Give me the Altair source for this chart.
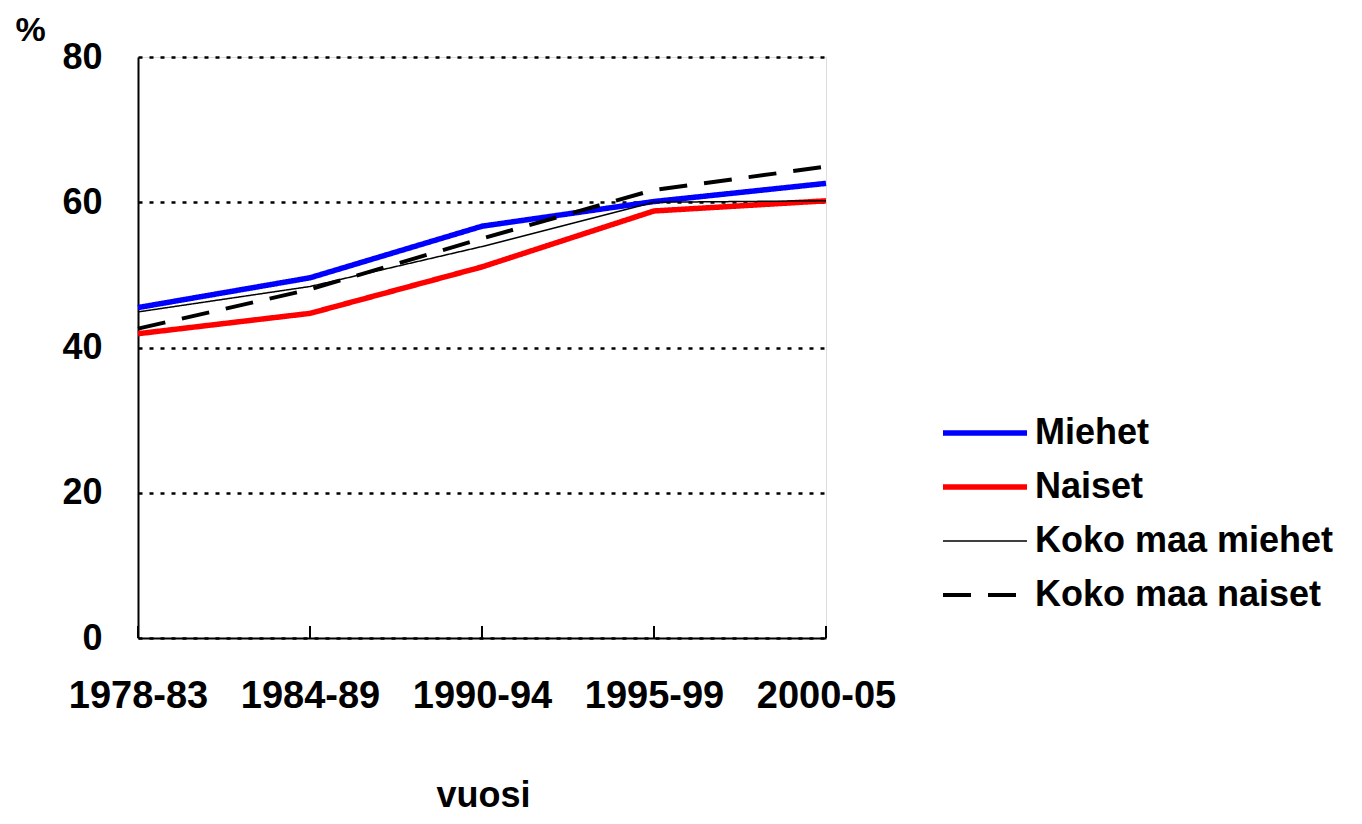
import altair as alt
import pandas as pd

periods = ["1978-83", "1984-89", "1990-94", "1995-99", "2000-05"]
series_names = ["Miehet", "Naiset", "Koko maa miehet", "Koko maa naiset"]
miehet = [45.5, 49.6, 56.7, 60.1, 62.6]
naiset = [41.9, 44.7, 51.1, 58.8, 60.2]
koko_miehet = [44.9, 48.4, 53.9, 60.0, 60.2]
koko_naiset = [42.6, 48.0, 55.0, 61.7, 64.9]
y_ticks = [0, 20, 40, 60, 80]

colors = ["#0000ff", "#ff0000", "#000000", "#000000"]
dashes = [[1, 0], [1, 0], [1, 0], [28, 17]]
widths = [5.5, 5.5, 1.5, 4]

rows = []
for name, vals in zip(series_names, [miehet, naiset, koko_miehet, koko_naiset]):
    for p, v in zip(periods, vals):
        rows.append({"period": p, "value": v, "series": name})
df = pd.DataFrame(rows)
ticks_df = pd.DataFrame({"period": periods})

FONT = "Liberation Sans"
FS = 36

x_enc = alt.X(
    "period:N",
    sort=periods,
    scale=alt.Scale(type="point", padding=0, domain=periods),
    axis=alt.Axis(
        title="vuosi",
        titleX=345,
        titleY=168,
        titleAlign="center",
        titleBaseline="alphabetic",
        titleFont=FONT,
        titleFontSize=FS,
        titleFontWeight="bold",
        titleColor="black",
        labelFont=FONT,
        labelFontSize=38,
        labelFontWeight="bold",
        labelColor="black",
        labelPadding=39,
        labelAngle=0,
        labelAlign="center",
        labelBaseline="top",
        labelOverlap=False,
        labelFlush=False,
        labelBound=False,
        ticks=False,
        tickSize=0,
        domainColor="black",
        domainWidth=2,
        grid=False,
    ),
)

y_enc = alt.Y(
    "value:Q",
    scale=alt.Scale(domain=[0, 80], nice=False),
    axis=alt.Axis(
        values=y_ticks,
        title="%",
        titleAngle=0,
        titleX=-108,
        titleY=-27,
        titleAlign="center",
        titleBaseline="middle",
        titleFont=FONT,
        titleFontSize=34,
        titleFontWeight="bold",
        titleColor="black",
        labelFont=FONT,
        labelFontSize=FS,
        labelFontWeight="bold",
        labelColor="black",
        labelPadding=36,
        ticks=False,
        tickSize=0,
        domainColor="black",
        domainWidth=2,
        grid=True,
        gridColor="black",
        gridDash=[4, 7],
        gridWidth=2.5,
        gridOpacity=1,
    ),
)

legend = alt.Legend(
    title=None,
    orient="none",
    legendX=802,
    legendY=358,
    symbolType="stroke",
    symbolSize=7056,
    labelFont=FONT,
    labelFontSize=FS,
    labelFontWeight="bold",
    labelColor="black",
    labelOffset=5,
    labelLimit=600,
    rowPadding=18,
    clipHeight=36,
    padding=0,
)

lines = alt.Chart(df).mark_line().encode(
    x=x_enc,
    y=y_enc,
    color=alt.Color("series:N", sort=series_names,
                    scale=alt.Scale(domain=series_names, range=colors), legend=legend),
    strokeDash=alt.StrokeDash("series:N", sort=series_names,
                              scale=alt.Scale(domain=series_names, range=dashes), legend=legend),
    strokeWidth=alt.StrokeWidth("series:N", sort=series_names,
                                scale=alt.Scale(type="ordinal", domain=series_names, range=widths),
                                legend=legend),
    order=alt.Order("period:N"),
)

tick_rules = alt.Chart(ticks_df).mark_rule(color="black", strokeWidth=2).encode(
    x=alt.X("period:N", sort=periods),
    y=alt.datum(0),
    y2=alt.datum(1.65),
)

chart = alt.layer(tick_rules, lines).properties(
    width=688,
    height=581,
    autosize=alt.AutoSizeParams(type="none"),
    padding={"left": 130, "top": 49, "right": 528, "bottom": 176},
).configure_view(stroke=None).configure(background="white")

chart.save("out.html", embed_options={"renderer": "svg", "actions": False})
